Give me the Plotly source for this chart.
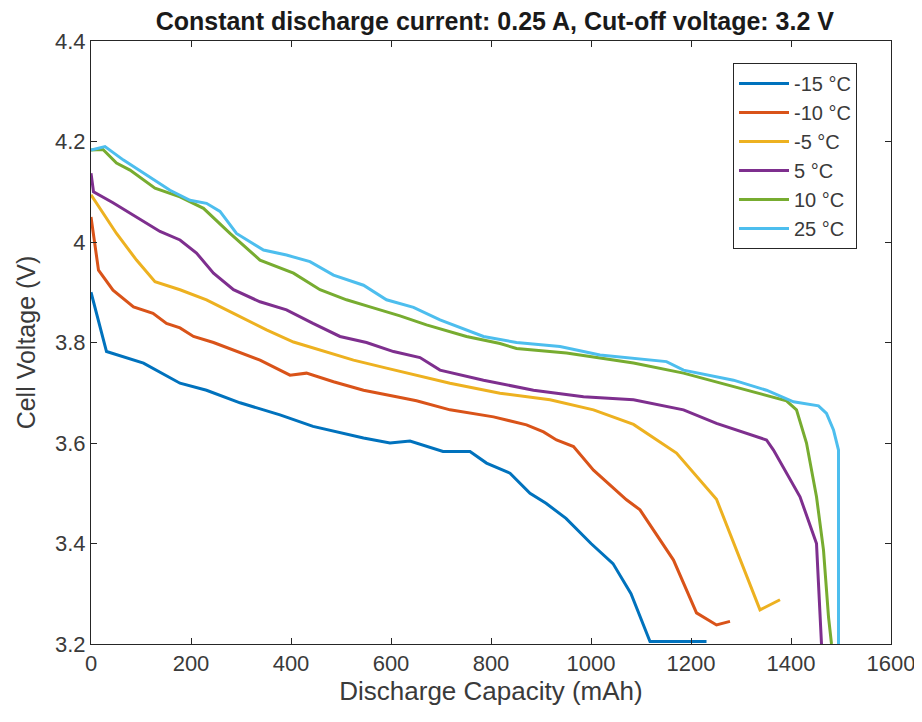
import plotly.graph_objects as go

# -15 °C
cap_m15 = [0, 31, 105, 178, 231, 298, 378, 444, 545, 598, 638, 704, 758, 791, 838, 878, 910, 950, 1000, 1044, 1080, 1118, 1231]
v_m15 = [3.90, 3.782, 3.759, 3.719, 3.705, 3.68, 3.656, 3.633, 3.61, 3.60, 3.604, 3.583, 3.583, 3.56, 3.54, 3.50, 3.48, 3.45, 3.40, 3.36, 3.30, 3.205, 3.205]
# -10 °C
cap_m10 = [0, 15, 44, 85, 124, 151, 178, 205, 245, 285, 338, 398, 431, 485, 545, 611, 651, 718, 805, 871, 905, 931, 965, 1005, 1071, 1098, 1165, 1211, 1251, 1278]
v_m10 = [4.05, 3.944, 3.904, 3.871, 3.858, 3.838, 3.829, 3.812, 3.80, 3.785, 3.765, 3.735, 3.739, 3.722, 3.705, 3.692, 3.684, 3.666, 3.652, 3.636, 3.622, 3.606, 3.593, 3.546, 3.487, 3.467, 3.367, 3.262, 3.238, 3.245]
# -5 °C
cap_m5 = [0, 51, 91, 128, 178, 231, 285, 351, 405, 458, 525, 591, 658, 718, 818, 918, 1005, 1085, 1171, 1251, 1338, 1378]
v_m5 = [4.094, 4.017, 3.964, 3.921, 3.905, 3.885, 3.858, 3.825, 3.801, 3.785, 3.765, 3.749, 3.733, 3.719, 3.699, 3.686, 3.666, 3.637, 3.58, 3.488, 3.268, 3.288]
# 5 °C
cap_p5 = [0, 5, 44, 91, 138, 178, 211, 245, 285, 338, 391, 444, 498, 551, 605, 658, 698, 785, 885, 985, 1085, 1185, 1251, 1351, 1365, 1418, 1451, 1461]
v_p5 = [4.137, 4.10, 4.078, 4.05, 4.021, 4.004, 3.978, 3.938, 3.905, 3.881, 3.865, 3.838, 3.812, 3.80, 3.782, 3.77, 3.745, 3.725, 3.705, 3.692, 3.686, 3.666, 3.639, 3.606, 3.586, 3.493, 3.40, 3.20]
# 10 °C
cap_p10 = [0, 24, 51, 78, 128, 178, 225, 278, 338, 405, 458, 511, 558, 618, 671, 751, 818, 851, 951, 1085, 1185, 1285, 1391, 1411, 1431, 1451, 1465, 1475, 1481]
v_p10 = [4.183, 4.184, 4.157, 4.143, 4.107, 4.09, 4.067, 4.017, 3.964, 3.938, 3.905, 3.885, 3.871, 3.853, 3.835, 3.812, 3.798, 3.788, 3.779, 3.759, 3.739, 3.712, 3.684, 3.666, 3.60, 3.493, 3.387, 3.254, 3.20]
# 25 °C
cap_p25 = [0, 28, 65, 111, 158, 198, 231, 258, 291, 345, 391, 438, 485, 545, 591, 645, 698, 785, 851, 938, 1018, 1151, 1185, 1285, 1351, 1405, 1455, 1471, 1485, 1495, 1495]
v_p25 = [4.183, 4.19, 4.163, 4.133, 4.103, 4.083, 4.077, 4.061, 4.017, 3.984, 3.974, 3.961, 3.934, 3.914, 3.885, 3.87, 3.845, 3.812, 3.80, 3.792, 3.775, 3.762, 3.745, 3.725, 3.705, 3.682, 3.674, 3.659, 3.626, 3.586, 3.20]

names = ["-15 °C", "-10 °C", "-5 °C", "5 °C", "10 °C", "25 °C"]
colors = ["#0072BD", "#D95319", "#EDB120", "#7E2F8E", "#77AC30", "#4DBEEE"]
xs = [cap_m15, cap_m10, cap_m5, cap_p5, cap_p10, cap_p25]
ys = [v_m15, v_m10, v_m5, v_p5, v_p10, v_p25]

x_ticks = [0, 200, 400, 600, 800, 1000, 1200, 1400, 1600]
y_ticks = [3.2, 3.4, 3.6, 3.8, 4.0, 4.2, 4.4]
y_tick_text = ["3.2", "3.4", "3.6", "3.8", "4", "4.2", "4.4"]

fig = go.Figure()
for x, y, n, c in zip(xs, ys, names, colors):
    fig.add_trace(go.Scatter(x=x, y=y, mode="lines", name=n,
                             line=dict(color=c, width=3)))

font = "Liberation Sans, Arial, sans-serif"
fig.update_layout(
    width=922, height=722,
    paper_bgcolor="white", plot_bgcolor="white",
    margin=dict(l=83, r=39, t=33, b=86),
    font=dict(family=font, size=22, color="#3a3a3a"),
    title=dict(text="<b>Constant discharge current: 0.25 A, Cut-off voltage: 3.2 V</b>",
               x=0.528, xanchor="center", y=0.982, yanchor="middle",
               font=dict(size=25, color="#1a1a1a")),
    showlegend=True,
    legend=dict(x=0.8025, y=0.9635, xanchor="left", yanchor="top",
                bgcolor="white", bordercolor="#262626", borderwidth=1,
                itemwidth=50,
                font=dict(size=20, color="#3a3a3a"), tracegroupgap=0),
)
fig.update_xaxes(range=[0, 1600], tickvals=x_ticks, ticks="inside", ticklen=6,
                 showgrid=False, zeroline=False, showline=True, linecolor="#262626",
                 linewidth=1, mirror="ticks", tickcolor="#262626",
                 title=dict(text="Discharge Capacity (mAh)", font=dict(size=26), standoff=6))
fig.update_yaxes(range=[3.2, 4.4], tickvals=y_ticks, ticktext=y_tick_text, ticks="inside",
                 ticklen=6, showgrid=False, zeroline=False, showline=True,
                 linecolor="#262626", linewidth=1, mirror="ticks", tickcolor="#262626",
                 title=dict(text="Cell Voltage (V)", font=dict(size=25), standoff=12))

fig.write_html("out.html")
